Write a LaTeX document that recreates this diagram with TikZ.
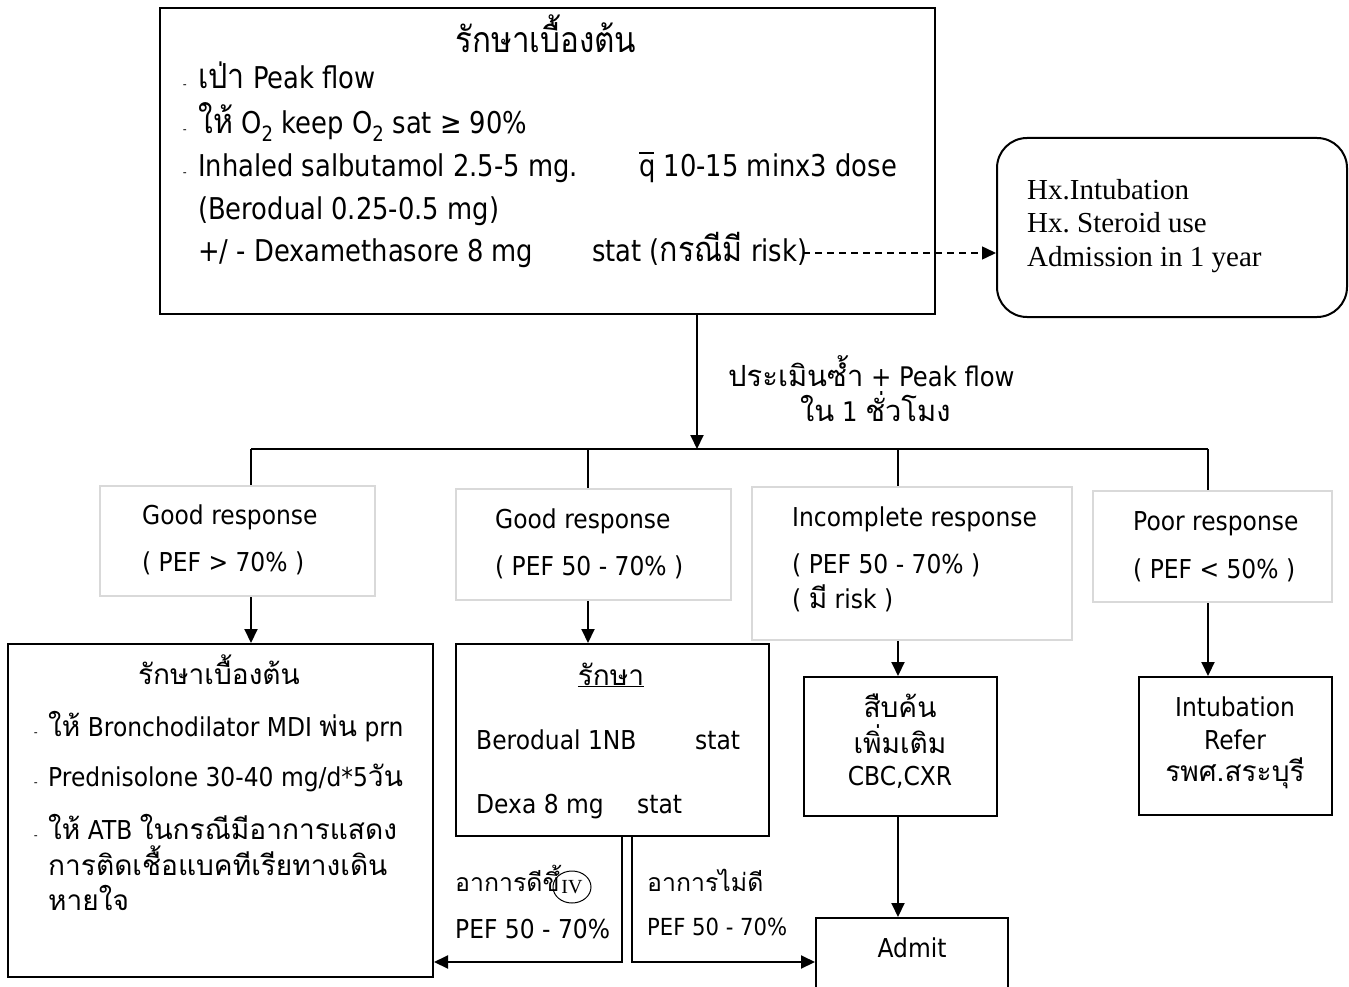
\documentclass[tikz,border=0pt]{standalone}
\usepackage{fontspec}
\usetikzlibrary{arrows.meta,shapes.geometric}
\setmainfont[FakeStretch=0.9]{DejaVu Sans}
\newfontfamily\thx[Script=Thai,Scale=1.08]{Loma}
\newfontfamily\latc[FakeStretch=0.86]{DejaVu Sans}
\newfontfamily\thc[Script=Thai,FakeStretch=0.88,Scale=1.15]{Loma}
\newfontfamily\serifx{Liberation Serif}
\definecolor{boxgray}{HTML}{D9D9D9}
\frenchspacing
\tikzset{
  box/.style={draw=black, line width=2pt, rectangle, inner sep=0pt},
  gbox/.style={draw=boxgray, line width=2pt, rectangle, inner sep=0pt},
  rbox/.style={draw=black, line width=2pt, rectangle, rounded corners=30pt, inner sep=0pt},
  txt/.style={anchor=base west, inner sep=0pt, font=\fontsize{26}{28}\selectfont},
  ctxt/.style={anchor=base, inner sep=0pt, font=\fontsize{26}{28}\selectfont},
  thtxt/.style={font=\thx\fontsize{26}{28}\selectfont},
  toptxt/.style={anchor=base west, inner sep=0pt, font=\latc\fontsize{30}{32}\selectfont},
  hxtxt/.style={anchor=base west, inner sep=0pt, font=\serifx\fontsize{29}{33}\selectfont},
  bul/.style={anchor=base east, inner sep=0pt, font=\fontsize{12}{15}\selectfont},
  conn/.style={draw=black, line width=2pt},
  arr/.style={conn, -{Triangle[length=14pt, width=13pt]}},
}
\newcommand{\lo}{\textsubscript{2}}
\newcommand{\qbar}{\rlap{\rule[0.78em]{0.5em}{1.6pt}}q}
\begin{document}
\begin{tikzpicture}[x=1pt, y=-1pt]
\useasboundingbox (0,0) rectangle (1349,987);
\clip (0,0) rectangle (1349,987);
\fill[white] (0,0) rectangle (1349,987);

% ---- first treatment box ----
\node[box, minimum width=775pt, minimum height=306pt] (top) at (547.5,161) {};
\node[anchor=base, inner sep=0pt, font=\thc\fontsize{31}{32}\selectfont] (t0) at (546,53) {รักษาเบื้องต้น};
\node[bul] (b1) at (187,89) {-};
\node[toptxt] (t1) at (198,89) {{\thc เป่า} Peak flow};
\node[bul] (b2) at (187,134) {-};
\node[toptxt] (t2) at (198,134) {{\thc ให้} O\lo{} keep O\lo{} sat ≥ 90\%};
\node[bul] (b3) at (187,177) {-};
\node[toptxt] (t3) at (198,177) {Inhaled salbutamol 2.5-5 mg.};
\node[toptxt] (t3b) at (639,177) {\qbar{} 10-15 minx3 dose};
\node[toptxt] (t4) at (198,219) {(Berodual 0.25-0.5 mg)};
\node[toptxt] (t5) at (198,261) {+/ - Dexamethasore 8 mg};
\node[toptxt] (t5b) at (592,261) {stat ({\thc กรณีมี} risk)};
\coordinate (rk) at (803,253);

% ---- risk factors ----
\node[rbox, minimum width=350pt, minimum height=179pt] (hx) at (1172,227.5) {};
\node[hxtxt] (hx1) at (1027,200) {Hx.Intubation};
\node[hxtxt] (hx2) at (1027,233) {Hx. Steroid use};
\node[hxtxt] (hx3) at (1027,266) {Admission in 1 year};
\draw[arr, dashed, dash pattern=on 7pt off 5pt, line width=1.5pt] (rk) -- (rk -| hx.west);

% ---- reassessment ----
\coordinate (hub) at (697,449);
\draw[arr] (top.south -| hub) -- (hub);
\node[txt, font=\fontsize{27}{28}\selectfont] (re1) at (728,386) {{\thx ประเมินซ้ำ} + Peak flow};
\node[txt, font=\fontsize{27}{28}\selectfont] (re2) at (800,421) {{\thx ใน} 1 {\thx ชั่วโมง}};

\coordinate (d1) at (251,449);
\coordinate (d2) at (588,449);
\coordinate (d3) at (898,449);
\coordinate (d4) at (1208,449);
\draw[conn] (d1) -- (d4);

% ---- response groups ----
\node[gbox, minimum width=275pt, minimum height=110pt] (g1) at (237.5,541) {};
\node[gbox, minimum width=275pt, minimum height=111pt] (g2) at (593.5,544.5) {};
\node[gbox, minimum width=320pt, minimum height=153pt] (g3) at (912,563.5) {};
\node[gbox, minimum width=239pt, minimum height=111pt] (g4) at (1212.5,546.5) {};
\foreach \d/\g in {d1/g1, d2/g2, d3/g3, d4/g4}
  \draw[conn] (\d) -- (\d |- \g.north);

\node[txt] (g1a) at (142,524) {Good response};
\node[txt] (g1b) at (142,571) {( PEF > 70\% )};
\node[txt] (g2a) at (495,528) {Good response};
\node[txt] (g2b) at (495,575) {( PEF 50 - 70\% )};
\node[txt] (g3a) at (792,526) {Incomplete response};
\node[txt] (g3b) at (792,573) {( PEF 50 - 70\% )};
\node[txt] (g3c) at (792,608) {( {\thx มี} risk )};
\node[txt] (g4a) at (1133,530) {Poor response};
\node[txt] (g4b) at (1133,578) {( PEF < 50\% )};

% ---- actions ----
\node[box, minimum width=425pt, minimum height=333pt] (A) at (220.5,810.5) {};
\node[box, minimum width=313pt, minimum height=192pt] (B) at (612.5,740) {};
\node[box, minimum width=193pt, minimum height=139pt] (C) at (900.5,746.5) {};
\node[box, minimum width=193pt, minimum height=138pt] (D) at (1235.5,746) {};
\node[box, minimum width=192pt, minimum height=160pt] (E) at (912,998) {};

\draw[arr] (g1.south -| d1) -- (A.north -| d1);
\draw[arr] (g2.south -| d2) -- (B.north -| d2);
\draw[arr] (g3.south -| d3) -- (C.north -| d3);
\draw[arr] (g4.south -| d4) -- (D.north -| d4);
\draw[arr] (C.south -| d3) -- (E.north -| d3);

\node[ctxt, thtxt] (Aa) at (219,684) {รักษาเบื้องต้น};
\node[bul] (ab1) at (38,736) {-};
\node[txt] (Ab) at (48,736) {{\thx ให้} Bronchodilator MDI {\thx พ่น} prn};
\node[bul] (ab2) at (38,786) {-};
\node[txt] (Ac) at (48,786) {Prednisolone 30-40 mg/d*5{\thx วัน}};
\node[bul] (ab3) at (38,839) {-};
\node[txt] (Ad) at (48,839) {{\thx ให้} ATB {\thx ในกรณีมีอาการแสดง}};
\node[txt, thtxt] (Ae) at (48,875) {การติดเชื้อแบคทีเรียทางเดิน};
\node[txt, thtxt] (Af) at (48,910) {หายใจ};

\node[ctxt, thtxt] (Ba) at (611,685) {\underline{รักษา}};
\node[txt] (Bb) at (476,749) {Berodual 1NB};
\node[txt] (Bc) at (695,749) {stat};
\node[txt] (Bd) at (476,813) {Dexa 8 mg};
\node[txt] (Be) at (637,813) {stat};

\node[ctxt, thtxt] (C1) at (900,717) {สืบค้น};
\node[ctxt, thtxt] (C2) at (900,753) {เพิ่มเติม};
\node[ctxt] (C3) at (900,785) {CBC,CXR};
\node[ctxt] (D1) at (1235,716) {Intubation};
\node[ctxt] (D2) at (1235,749) {Refer};
\node[ctxt, thtxt] (D3) at (1235,781) {รพศ.สระบุรี};
\node[ctxt] (Et) at (912,957) {Admit};

% ---- outcome branches ----
\coordinate (s1) at (622,962);
\coordinate (s2) at (632,962);
\draw[arr] (B.south -| s1) -- (s1) -- (s1 -| A.east);
\draw[arr] (B.south -| s2) -- (s2) -- (s2 -| E.west);

\node[txt, font=\thx\fontsize{23}{26}\selectfont] (L1) at (455,891) {อาการดีขึ้};
\node[draw=black, line width=1pt, ellipse, minimum width=38pt, minimum height=32pt, inner sep=0pt, font=\serifx\fontsize{20}{22}\selectfont] (iv) at (572,887) {IV};
\node[txt] (L2) at (455,938) {PEF 50 - 70\%};
\node[txt, font=\thx\fontsize{23}{26}\selectfont] (R1) at (647,891) {อาการไม่ดี};
\node[txt, font=\fontsize{23.5}{26}\selectfont] (R2) at (647,935) {PEF 50 - 70\%};
\end{tikzpicture}
\end{document}
